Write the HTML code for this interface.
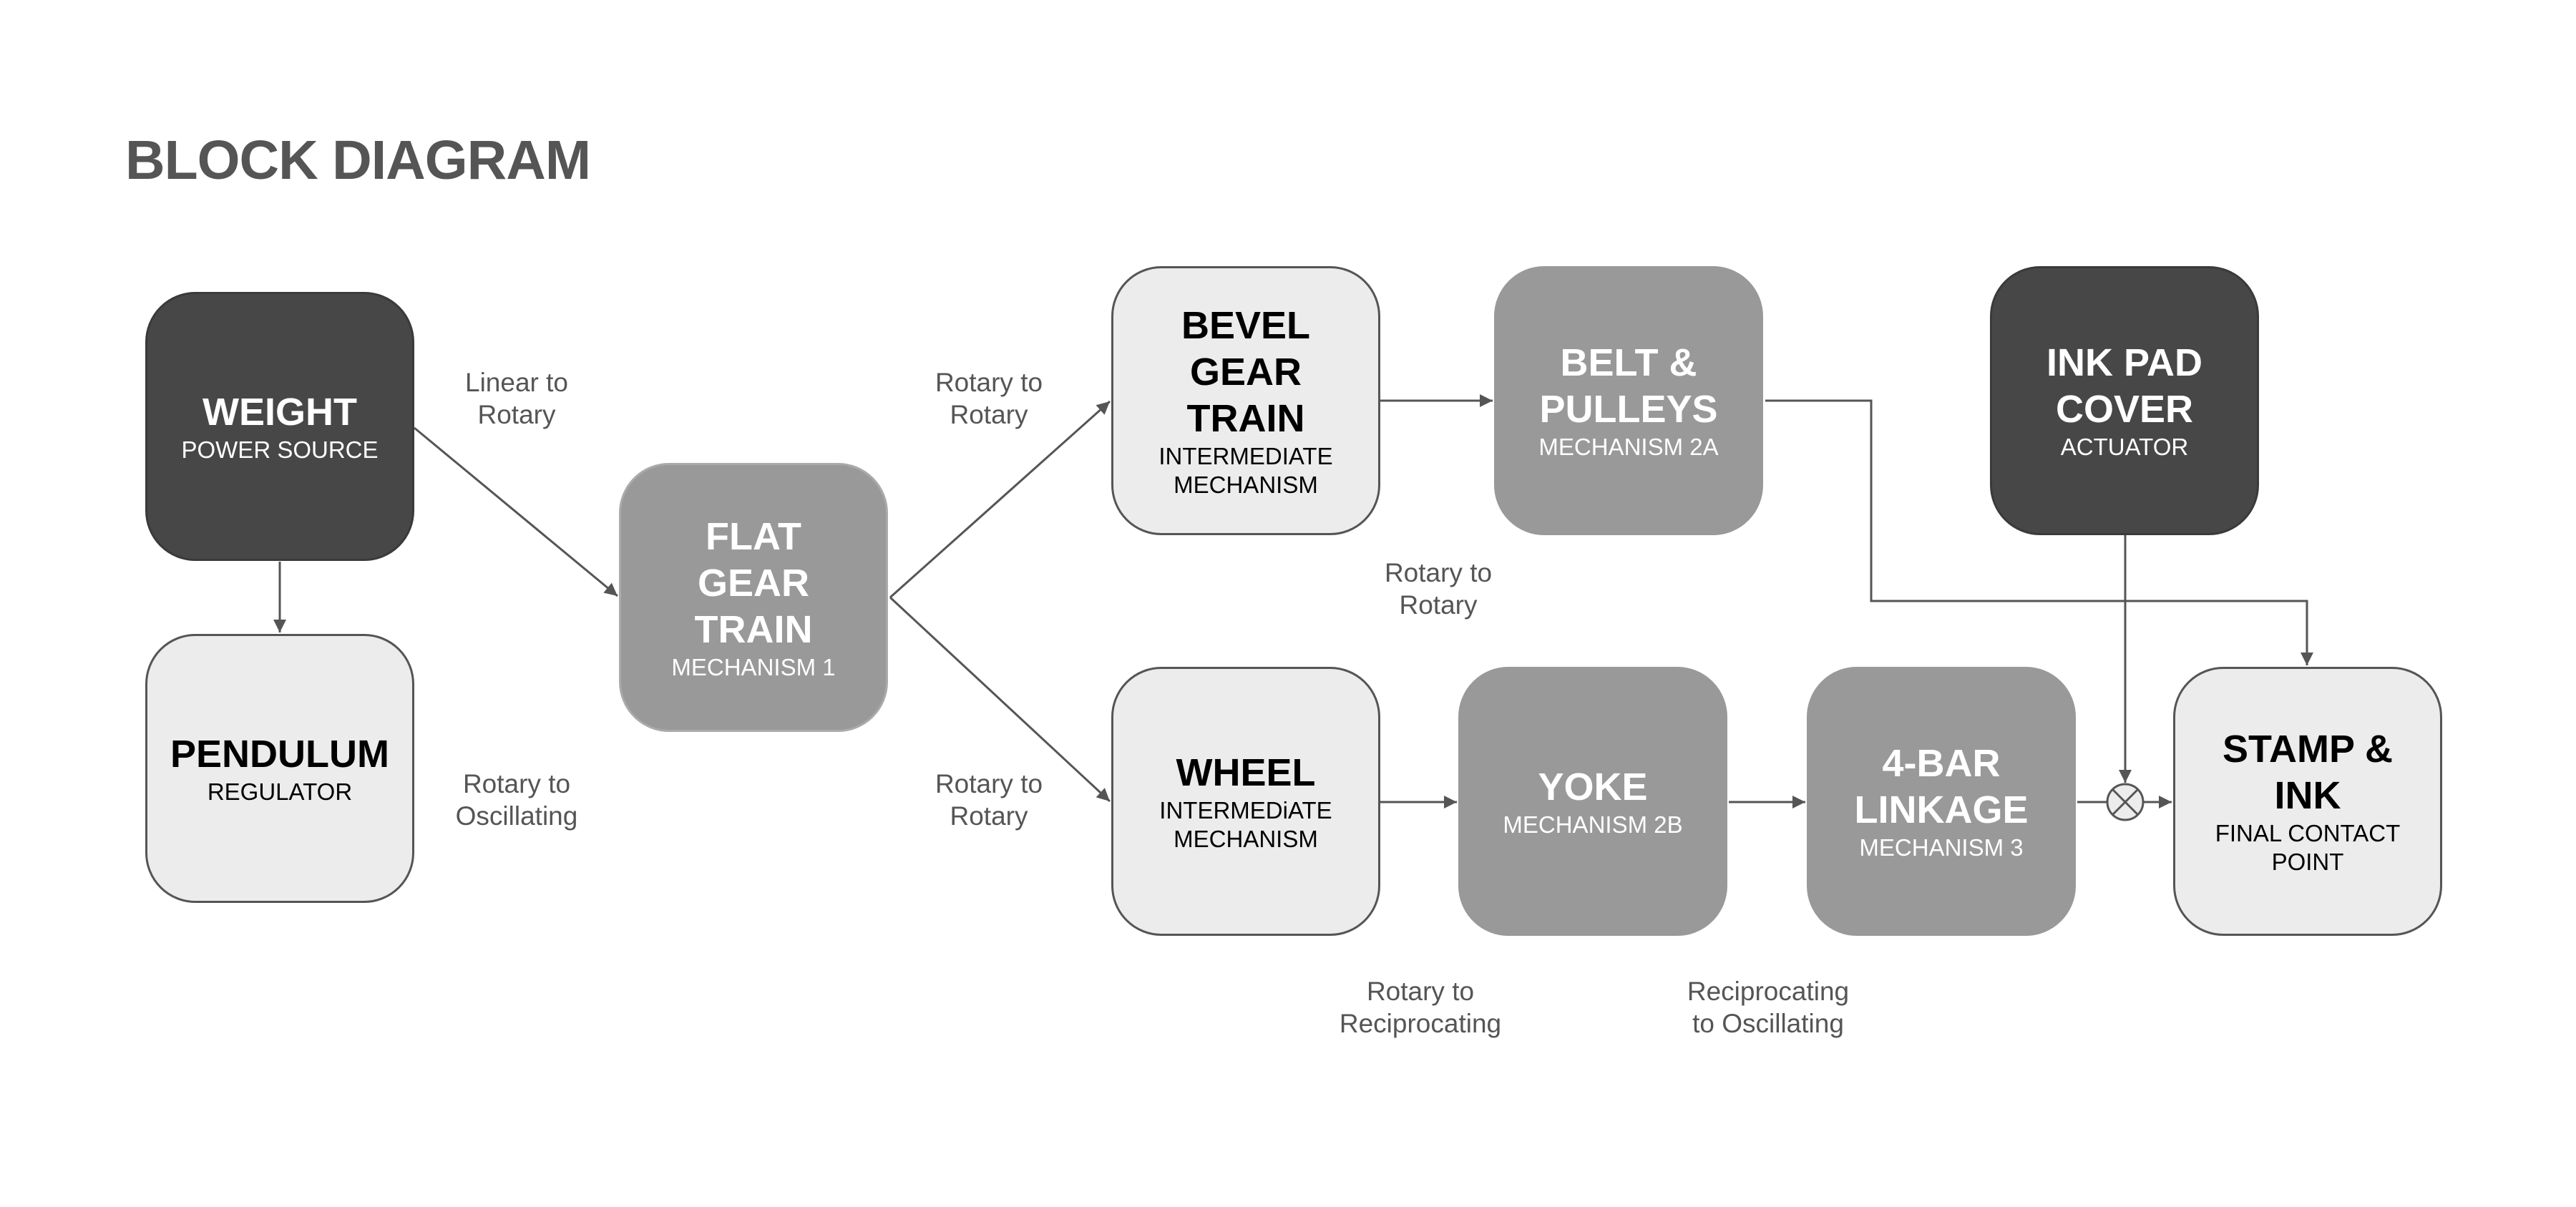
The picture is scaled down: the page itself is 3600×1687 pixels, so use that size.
<!DOCTYPE html>
<html><head><meta charset="utf-8"><style>
body{margin:0;width:3600px;height:1687px;background:#fff;position:relative;overflow:hidden;font-family:"Liberation Sans",Arial,sans-serif}
.b{position:absolute;width:376px;height:376px;box-sizing:border-box;border-radius:70px;display:flex;flex-direction:column;justify-content:center;align-items:center;text-align:center}
.d{background:#474747;border:3px solid #3a3a3a;color:#fff}
.m{background:#999;border:3px solid #999;color:#fff}
.l{background:#ececec;border:3px solid #555;color:#000}
.t{font-weight:bold;font-size:54px;line-height:65px}
.s{font-size:33px;line-height:40px}
.lb{position:absolute;width:300px;margin-left:-150px;text-align:center;color:#555;font-size:37px;line-height:45px}
svg{position:absolute;left:0;top:0}
</style></head><body>
<div style="position:absolute;left:175px;top:180px;font-size:77px;font-weight:bold;color:#555;letter-spacing:-1px">BLOCK DIAGRAM</div>
<svg width="3600" height="1687">
<defs><marker id="a" markerWidth="10" markerHeight="10" refX="9" refY="5" orient="auto" markerUnits="userSpaceOnUse"><path d="M0,0 L10,5 L0,10 z" fill="#555"/></marker>
<marker id="A" viewBox="0 0 10 10" markerWidth="22" markerHeight="18" refX="10" refY="5" orient="auto" markerUnits="userSpaceOnUse"><path d="M0,0 L10,5 L0,10 z" fill="#555"/></marker></defs>
<g stroke="#555" stroke-width="3" fill="none">
<line x1="391" y1="785" x2="391" y2="884" marker-end="url(#A)"/>
<line x1="579" y1="598" x2="863" y2="833" marker-end="url(#A)"/>
<line x1="1244" y1="835" x2="1551" y2="561" marker-end="url(#A)"/>
<line x1="1244" y1="835" x2="1551" y2="1120" marker-end="url(#A)"/>
<line x1="1929" y1="560" x2="2086" y2="560" marker-end="url(#A)"/>
<polyline points="2467,560 2615,560 2615,840 3224,840 3224,930" marker-end="url(#A)"/>
<line x1="2970" y1="748" x2="2970" y2="1094" marker-end="url(#A)"/>
<line x1="1929" y1="1121" x2="2036" y2="1121" marker-end="url(#A)"/>
<line x1="2416" y1="1121" x2="2523" y2="1121" marker-end="url(#A)"/>
<line x1="2903" y1="1121" x2="2945" y2="1121"/>
<line x1="2995" y1="1121" x2="3035" y2="1121" marker-end="url(#A)"/>
<circle cx="2970" cy="1121" r="25" fill="#ececec"/>
<line x1="2952" y1="1103" x2="2988" y2="1139"/>
<line x1="2988" y1="1103" x2="2952" y2="1139"/>
</g></svg>
<div class="b d" style="left:203px;top:408px"><div class="t">WEIGHT</div><div class="s">POWER SOURCE</div></div>
<div class="b l" style="left:203px;top:886px"><div class="t">PENDULUM</div><div class="s">REGULATOR</div></div>
<div class="b m" style="left:865px;top:647px;border-color:#aaa"><div class="t">FLAT<br>GEAR<br>TRAIN</div><div class="s">MECHANISM 1</div></div>
<div class="b l" style="left:1553px;top:372px"><div class="t">BEVEL<br>GEAR<br>TRAIN</div><div class="s">INTERMEDIATE<br>MECHANISM</div></div>
<div class="b m" style="left:2088px;top:372px"><div class="t">BELT &amp;<br>PULLEYS</div><div class="s">MECHANISM 2A</div></div>
<div class="b d" style="left:2781px;top:372px"><div class="t">INK PAD<br>COVER</div><div class="s">ACTUATOR</div></div>
<div class="b l" style="left:1553px;top:932px"><div class="t">WHEEL</div><div class="s">INTERMEDiATE<br>MECHANISM</div></div>
<div class="b m" style="left:2038px;top:932px"><div class="t">YOKE</div><div class="s">MECHANISM 2B</div></div>
<div class="b m" style="left:2525px;top:932px"><div class="t">4-BAR<br>LINKAGE</div><div class="s">MECHANISM 3</div></div>
<div class="b l" style="left:3037px;top:932px"><div class="t">STAMP &amp;<br>INK</div><div class="s">FINAL CONTACT<br>POINT</div></div>
<div class="lb" style="left:722px;top:512px">Linear to<br>Rotary</div>
<div class="lb" style="left:722px;top:1073px">Rotary to<br>Oscillating</div>
<div class="lb" style="left:1382px;top:512px">Rotary to<br>Rotary</div>
<div class="lb" style="left:1382px;top:1073px">Rotary to<br>Rotary</div>
<div class="lb" style="left:2010px;top:778px">Rotary to<br>Rotary</div>
<div class="lb" style="left:1985px;top:1363px">Rotary to<br>Reciprocating</div>
<div class="lb" style="left:2471px;top:1363px">Reciprocating<br>to Oscillating</div>
</body></html>
